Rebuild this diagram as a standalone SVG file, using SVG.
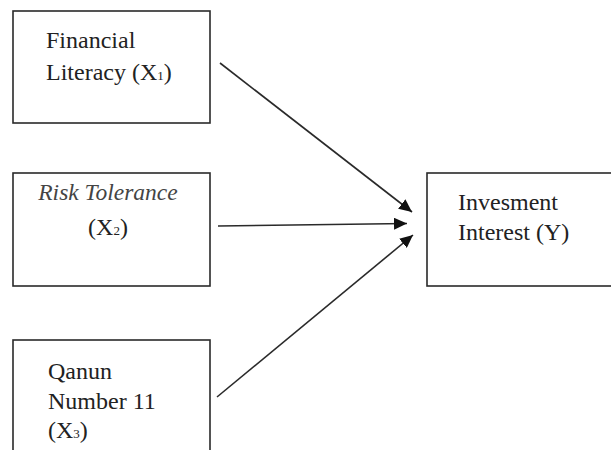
<svg xmlns="http://www.w3.org/2000/svg" width="611" height="450" viewBox="0 0 611 450">
  <style>
    .box { fill: #ffffff; stroke: #2a2a2a; stroke-width: 1.6; }
    .lbl { font-family: "Liberation Serif", "Times New Roman", serif; font-size: 24px; fill: #222222; }
    .ital { font-style: italic; fill: #444444; font-size: 23.5px; }
    .sub { font-size: 13px; }
    .conn { stroke: #2a2a2a; stroke-width: 1.6; fill: none; marker-end: url(#arrow); }
  </style>
  <defs>
    <marker id="arrow" markerUnits="userSpaceOnUse" markerWidth="14" markerHeight="12" refX="13" refY="6" orient="auto">
      <path d="M0,0 L13,6 L0,12 z" fill="#111111"/>
    </marker>
  </defs>
  <rect width="611" height="450" fill="#ffffff"/>
  <g id="node-financial-literacy">
    <rect class="box" x="13" y="11" width="197" height="112"/>
    <text class="lbl" x="46" y="48">Financial</text>
    <text class="lbl" x="46" y="80">Literacy (X<tspan class="sub">1</tspan>)</text>
  </g>
  <g id="node-risk-tolerance">
    <rect class="box" x="13" y="173" width="197" height="113"/>
    <text class="lbl ital" x="108" y="200" text-anchor="middle">Risk Tolerance</text>
    <text class="lbl" x="108" y="235" text-anchor="middle">(X<tspan class="sub">2</tspan>)</text>
  </g>
  <g id="node-qanun">
    <rect class="box" x="13" y="340" width="197" height="130"/>
    <text class="lbl" x="48" y="379">Qanun</text>
    <text class="lbl" x="48" y="409">Number 11</text>
    <text class="lbl" x="48" y="438">(X<tspan class="sub">3</tspan>)</text>
  </g>
  <g id="node-investment-interest">
    <rect class="box" x="427" y="173" width="200" height="113"/>
    <text class="lbl" x="458" y="210">Invesment</text>
    <text class="lbl" x="458" y="240">Interest (Y)</text>
  </g>
  <g id="connectors">
    <line class="conn" x1="220" y1="63" x2="412" y2="212"/>
    <line class="conn" x1="218" y1="226" x2="407" y2="223.5"/>
    <line class="conn" x1="217" y1="397" x2="413" y2="235"/>
  </g>
</svg>
